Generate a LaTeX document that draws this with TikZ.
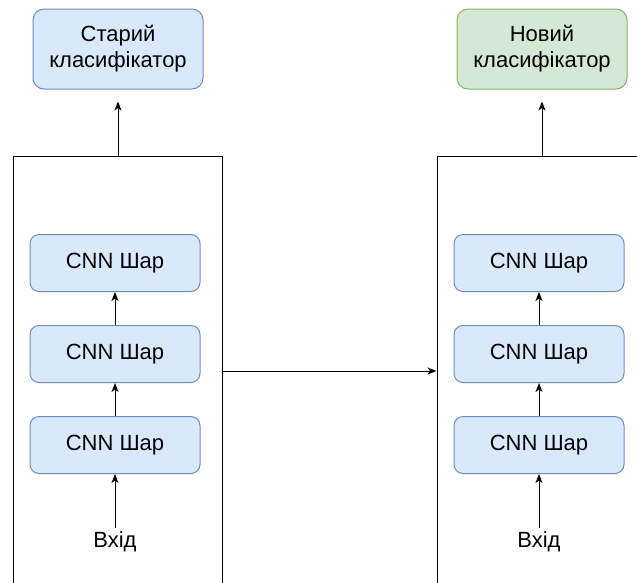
\documentclass[tikz,border=0pt]{standalone}
\usepackage{fontspec}
\setmainfont{Liberation Sans}
\usetikzlibrary{arrows.meta,positioning}
\definecolor{layerFill}{HTML}{DAE8FC}
\definecolor{layerLine}{HTML}{6C8EBF}
\definecolor{newFill}{HTML}{D5E8D4}
\definecolor{newLine}{HTML}{82B366}

\begin{document}
\begin{tikzpicture}[x=1pt,y=-1pt,
    every node/.style={font=\fontsize{22}{26}\selectfont},
    layer/.style={draw=layerLine,fill=layerFill,line width=1pt,rounded corners=9pt,minimum width=170pt,minimum height=57pt},
    clf/.style={draw=layerLine,fill=layerFill,line width=1pt,rounded corners=11pt,minimum width=170pt,minimum height=80pt,align=center},
    net/.style={draw,line width=1pt,minimum width=209pt,minimum height=460pt},
    arr/.style={-{Stealth[length=9pt,width=7pt,inset=2.5pt]},line width=1pt}]
    \useasboundingbox (0,0) rectangle (637,582);
    \clip (0,0) rectangle (637,582);
    % old network
    \node[net] (oldnet) at (117.5,386) {};
    \node[layer] (oldA) at (115,445) {CNN Шар};
    \node[layer,above=33pt of oldA] (oldB) {CNN Шар};
    \node[layer,above=33pt of oldB] (oldC) {CNN Шар};
    \node (oldin) at (115,542) {Вхід};
    \node[clf] (oldclf) at (118,49) {Старий\\класифікатор};
    % new network
    \node[net] (newnet) at (541.5,386) {};
    \node[layer] (newA) at (539,445) {CNN Шар};
    \node[layer,above=33pt of newA] (newB) {CNN Шар};
    \node[layer,above=33pt of newB] (newC) {CNN Шар};
    \node (newin) at (539,542) {Вхід};
    \node[clf,draw=newLine,fill=newFill] (newclf) at (542,49) {Новий\\класифікатор};
    % connectors
    \draw[arr] (oldin) -- (oldA);
    \draw[arr] (oldA) -- (oldB);
    \draw[arr] (oldB) -- (oldC);
    \draw[arr,shorten >=12pt] (oldnet.north -| oldclf) -- (oldclf);
    \draw[arr] (newin) -- (newA);
    \draw[arr] (newA) -- (newB);
    \draw[arr] (newB) -- (newC);
    \draw[arr,shorten >=12pt] (newnet.north -| newclf) -- (newclf);
    \draw[arr] (oldnet.east |- 0,371) -- (newnet.west |- 0,371);
\end{tikzpicture}
\end{document}
